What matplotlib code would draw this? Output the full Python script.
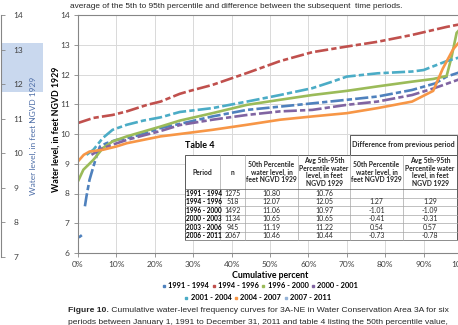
import numpy as np
import matplotlib
matplotlib.use("Agg")
import matplotlib.pyplot as plt
from matplotlib.patches import Rectangle
from matplotlib.lines import Line2D

W, H = 458, 325
nan = np.nan

# --- кривые (процент времени, уровень воды) ---
periods = ["1991 - 1994", "1994 - 1996", "1996 - 2000", "2000 - 2001",
           "2001 - 2004", "2004 - 2007", "2007 - 2011"]
colors = ["#4F81BD", "#C0504D", "#9BBB59", "#8064A2", "#4BACC6", "#F79646", "#95B3D7"]

blue_x = [0, 0.5, 1.0, nan, 1.8, 2.2, 3.0, 4.0, 4.8, 5.7, 7.4, 10, 12.7, 17, 21.5, 28.6,
          35, 44, 52.6, 61, 70, 78, 87, 93, 96, 100]
blue_y = [6.52, 6.55, 6.6, nan, 7.57, 7.9, 8.46, 8.9, 9.24, 9.58, 9.69, 9.8, 9.86, 10.0, 10.2, 10.4,
          10.59, 10.81, 10.92, 11.03, 11.15, 11.26, 11.48, 11.7, 11.93, 12.1]

red_x = [0, 4, 9, 12.7, 18, 21.5, 26.5, 28.6, 35, 44, 52.6, 61, 70, 78, 87, 96, 100]
red_y = [10.37, 10.54, 10.64, 10.76, 10.98, 11.09, 11.35, 11.43, 11.65, 12.05, 12.45,
         12.75, 12.94, 13.1, 13.33, 13.6, 13.7]

green_x = [0, 0.5, 1.4, 4, 6.5, 9, 12.7, 21.5, 26.5, 35, 44, 52.6, 61, 70, 78, 87,
           92.5, 96, 97.3, 98.6, 100]
green_y = [8.41, 8.55, 8.8, 9.13, 9.53, 9.75, 9.92, 10.25, 10.45, 10.7, 10.98, 11.15,
           11.31, 11.45, 11.6, 11.76, 11.85, 11.95, 12.6, 13.4, 13.6]

purple_x = [3.5, 6, 9, 12.7, 17, 21.5, 26.5, 35, 44, 52.6, 61, 70, 78, 87, 93, 100]
purple_y = [9.3, 9.5, 9.64, 9.8, 9.95, 10.1, 10.3, 10.48, 10.64, 10.76, 10.81, 10.98,
            11.09, 11.31, 11.55, 11.87]

cyan_x = [0, nan, 2.2, 4, 6.5, 9, 12.7, 17, 21.5, 26.5, 35, 44, 52.6, 61, 66, 70, 78,
          87, 90, 96, 100]
cyan_y = [9.54, nan, 9.3, 9.47, 9.87, 10.14, 10.31, 10.45, 10.56, 10.74, 10.87, 11.09,
          11.31, 11.54, 11.75, 11.93, 12.04, 12.1, 12.15, 12.45, 12.6]

orange_x = [0, 1.5, 3, 6.5, 10, 12.7, 15, 21.5, 26.5, 35, 44, 52.6, 61, 70, 78, 87,
            92.5, 95, 97.7, 100]
orange_y = [9.08, 9.3, 9.41, 9.47, 9.58, 9.69, 9.75, 9.92, 10.0, 10.14, 10.31, 10.48,
            10.59, 10.7, 10.87, 11.09, 11.45, 12.2, 12.85, 13.2]

# 2007 - 2011 на графике не видно, только в легенде
lightblue_x = []
lightblue_y = []

series_x = [blue_x, red_x, green_x, purple_x, cyan_x, orange_x, lightblue_x]
series_y = [blue_y, red_y, green_y, purple_y, cyan_y, orange_y, lightblue_y]
dashed = [True, True, False, True, True, False, False]

# --- таблица 4 ---
tab_period = ["1991 - 1994", "1994 - 1996", "1996 - 2000", "2000 - 2003",
              "2003 - 2006", "2006 - 2011"]
tab_n = ["1275", "518", "1492", "1134", "945", "2067"]
tab_p50 = ["10.80", "12.07", "11.06", "10.65", "11.19", "10.46"]
tab_avg = ["10.76", "12.05", "10.97", "10.65", "11.22", "10.44"]
tab_dp50 = ["", "1.27", "-1.01", "-0.41", "0.54", "-0.73"]
tab_davg = ["", "1.29", "-1.09", "-0.31", "0.57", "-0.78"]
tab_head = ["Period", "n", "50th Percentile\nwater level, in\nfeet NGVD 1929",
            "Avg 5th-95th\nPercentile water\nlevel, in feet\nNGVD 1929",
            "50th Percentile\nwater level, in\nfeet NGVD 1929",
            "Avg 5th-95th\nPercentile water\nlevel, in feet\nNGVD 1929"]

y_ticks = [6, 7, 8, 9, 10, 11, 12, 13, 14]
x_ticks = [0, 10, 20, 30, 40, 50, 60, 70, 80, 90, 100]
left_ticks = [7, 8, 9, 10, 11, 12, 13, 14]

DOC = "Liberation Sans"
CH = "Lato"


def fx(x):
    return x / W


def fy(y):
    return 1 - y / H


fig = plt.figure(figsize=(W / 100, H / 100), dpi=100)
fig.patch.set_facecolor("white")

# выделение на обрывке слева (под осями)
fig.add_artist(Rectangle((fx(2), fy(92)), fx(41), fy(43) - fy(92), transform=fig.transFigure,
                         facecolor="#C9D8EE", edgecolor="none", zorder=-1))

# обрывок соседнего графика слева
axl = fig.add_axes([fx(-200), fy(257), fx(201), fy(15) - fy(257)])
axl.patch.set_visible(False)
axl.set_ylim(7, 14)
axl.set_xlim(0, 1)
for s in ["left", "top", "bottom"]:
    axl.spines[s].set_visible(False)
axl.spines["right"].set_color("#868686")
axl.spines["right"].set_linewidth(0.8)
axl.yaxis.tick_right()
axl.set_yticks(left_ticks)
axl.set_xticks([])
axl.tick_params(axis="y", length=3, width=0.6, color="#868686", labelsize=6,
                labelcolor="#404040", pad=6)
for lab in axl.get_yticklabels():
    lab.set_family(CH)
axl.yaxis.set_label_position("right")
axl.set_ylabel("Water level, in feet NGVD 1929", color="#4F6FA8", fontsize=6, family=CH,
               labelpad=5)

# основной график
ax = fig.add_axes([fx(78), fy(253), fx(462) - fx(78), fy(15) - fy(253)])
for xs, ys, c, d in zip(series_x, series_y, colors, dashed):
    ls = (0, (5, 1.2, 2, 1.2)) if d else "-"
    ax.plot(xs, ys, color=c, lw=1.9, ls=ls, solid_capstyle="butt")
ax.set_xlim(0, 100)
ax.set_ylim(6, 14)
ax.set_xticks(x_ticks)
ax.set_xticklabels([f"{t}%" for t in x_ticks])
ax.set_yticks(y_ticks)
ax.grid(True, color="#D9D9D9", lw=0.7)
ax.set_axisbelow(True)
for s in ax.spines.values():
    s.set_color("#868686")
    s.set_linewidth(0.8)
ax.tick_params(length=3, width=0.6, color="#868686", labelsize=6, labelcolor="#404040", pad=3)
for lab in ax.get_xticklabels() + ax.get_yticklabels():
    lab.set_family(CH)
ax.set_xlabel("Cumulative percent", fontsize=6.3, fontweight="bold", family=CH, labelpad=2)
ax.set_ylabel("Water level, in feet NGVD 1929", fontsize=6.3, fontweight="bold", family=CH)
ax.yaxis.set_label_coords(-0.045, 0.52)

# легенда в две строки
handles = [Line2D([], [], color=c, marker="s", ls="none", markersize=2) for c in colors]
leg_kw = dict(loc="center", frameon=False, handlelength=0.5, handletextpad=0.3,
              columnspacing=0.4, borderpad=0,
              prop={"family": CH, "weight": "bold", "size": 5.4})
fig.legend(handles[:4], periods[:4], bbox_to_anchor=(fx(260), fy(286)), ncol=4, **leg_kw)
fig.legend(handles[4:], periods[4:], bbox_to_anchor=(fx(258), fy(298)), ncol=3, **leg_kw)

# таблица 4 поверх графика
col_edges = [185, 220, 245, 298, 350, 403, 457]
head_top, head_bot, tab_bot = 155, 189, 240
row_h = (tab_bot - head_bot) / len(tab_period)

fig.add_artist(Rectangle((fx(185), fy(tab_bot)), fx(457 - 185), fy(head_top) - fy(tab_bot),
                         transform=fig.transFigure, facecolor="white", edgecolor="#595959",
                         lw=0.7, zorder=2))
fig.add_artist(Rectangle((fx(350), fy(head_top)), fx(457 - 350), fy(135) - fy(head_top),
                         transform=fig.transFigure, facecolor="white", edgecolor="#595959",
                         lw=0.7, zorder=2))
fig.text(fx(403), fy(145), "Difference from previous period", ha="center", va="center",
         fontsize=5.1, fontweight="bold", family=CH, color="#262626", zorder=3)
fig.text(fx(185), fy(146), "Table 4", ha="left", va="center", fontsize=6.5,
         fontweight="bold", family=CH, zorder=3)

for xe in col_edges[1:-1]:
    fig.add_artist(Line2D([fx(xe), fx(xe)], [fy(head_top), fy(tab_bot)], transform=fig.transFigure,
                          color="#A6A6A6", lw=0.5, zorder=2.5))
for i in range(len(tab_period) + 1):
    yy = head_bot + i * row_h
    fig.add_artist(Line2D([fx(185), fx(457)], [fy(yy), fy(yy)], transform=fig.transFigure,
                          color="#A6A6A6" if i else "#595959", lw=0.5, zorder=2.5))

centers = [(col_edges[i] + col_edges[i + 1]) / 2 for i in range(6)]
for i, txt in enumerate(tab_head):
    fig.text(fx(centers[i]), fy((head_top + head_bot) / 2), txt, ha="center", va="center",
             fontsize=4.85, fontweight="bold", family=CH, color="#262626", linespacing=1.12,
             zorder=3)

cols = [tab_n, tab_p50, tab_avg, tab_dp50, tab_davg]
for r in range(len(tab_period)):
    yc = fy(head_bot + (r + 0.5) * row_h)
    fig.text(fx(186.5), yc, tab_period[r], ha="left", va="center", fontsize=4.7,
             fontweight="bold", family=CH, zorder=3)
    for k, col in enumerate(cols):
        fig.text(fx(centers[k + 1]), yc, col[r], ha="center", va="center", fontsize=5.0,
                 family=CH, color="#262626", zorder=3)

# текст документа
fig.text(fx(70), fy(6), "average of the 5th to 95th percentile and difference between the "
         "subsequent  time periods.", ha="left", va="center", fontsize=5.95, family=DOC,
         color="#262626")
t1 = fig.text(fx(68), fy(310), "Figure 10.", ha="left", va="center", fontsize=6.1,
              fontweight="bold", family=DOC, color="#262626")
ax.annotate(" Cumulative water-level frequency curves for 3A-NE in Water Conservation Area 3A "
            "for six", xy=(1, 0.5), xycoords=t1, ha="left", va="center", fontsize=6.1,
            family=DOC, color="#262626", annotation_clip=False)
fig.text(fx(68), fy(322), "periods between January 1, 1991 to December 31, 2011 and table 4 "
         "listing the 50th percentile value,", ha="left", va="center", fontsize=6.1,
         family=DOC, color="#262626")

fig.savefig("out.png", dpi=100)
